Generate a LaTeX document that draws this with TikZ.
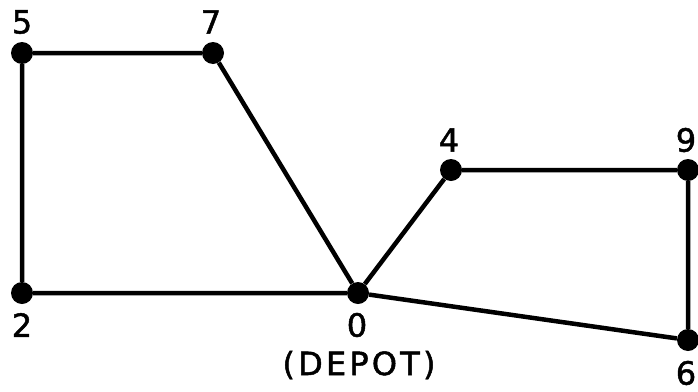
\documentclass[tikz,border=0pt]{standalone}
\usepackage{fontspec}
\setmainfont{DejaVu Sans}[FakeBold=1.5]
\newfontfamily\depotfont{DejaVu Sans}[LetterSpace=10,FakeBold=1.5]
\begin{document}
\begin{tikzpicture}[x=1pt,y=-1pt,
  vtx/.style={circle,fill=black,inner sep=0pt,minimum size=22pt},
  lbl/.style={font=\fontsize{32}{32}\selectfont,inner sep=0pt,anchor=center},
  edge/.style={line width=4.5pt}]
\useasboundingbox (0,0) rectangle (698,391);
\node[vtx] (n5) at (22,53) {};
\node[vtx] (n7) at (213,53) {};
\node[vtx] (n2) at (22,293) {};
\node[vtx] (n0) at (358,293) {};
\node[vtx] (n4) at (451,170) {};
\node[vtx] (n9) at (688,170) {};
\node[vtx] (n6) at (688,340) {};
\draw[edge] (n5) -- (n7) -- (n0) -- (n2) -- (n5);
\draw[edge] (n0) -- (n4) -- (n9) -- (n6) -- (n0);
\node[lbl] (l5) at (22,22) {5};
\node[lbl] (l7) at (211,22) {7};
\node[lbl] (l4) at (449,140) {4};
\node[lbl] (l9) at (686,140) {9};
\node[lbl] (l2) at (22,325) {2};
\node[lbl] (l0) at (357,325) {0};
\node[lbl,font=\depotfont\fontsize{32}{32}\selectfont] (ld) at (359,365) {(DEPOT)};
\node[lbl] (l6) at (686,373) {6};
\end{tikzpicture}
\end{document}
